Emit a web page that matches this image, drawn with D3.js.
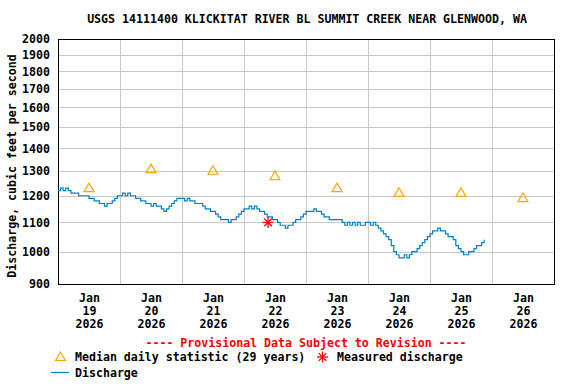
<!DOCTYPE html>
<html><head><meta charset="utf-8">
<script src="https://cdn.jsdelivr.net/npm/d3@7"></script>
<style>
body{margin:0;background:#fff}
svg{display:block}
text{font-family:"DejaVu Sans Mono","Liberation Mono",monospace;font-weight:bold;font-size:11.6px;fill:#000}
</style>
</head><body><svg id="c" width="576" height="384"></svg>
<script>
const title = "USGS 14111400 KLICKITAT RIVER BL SUMMIT CREEK NEAR GLENWOOD, WA";
const yLabel = "Discharge, cubic feet per second";
const yTicks = [900,1000,1100,1200,1300,1400,1500,1600,1700,1800,1900,2000];
const dayDates = ["2026-01-19","2026-01-20","2026-01-21","2026-01-22","2026-01-23","2026-01-24","2026-01-25","2026-01-26"];
const tickMonth = "Jan";
const tickDays = ["19","20","21","22","23","24","25","26"];
const tickYear = "2026";
const medianValues = [1232,1311,1304,1281,1232,1213,1213,1193];
const measuredTimes = ["2026-01-22T09:20:00Z"];
const measuredValues = [1100];
const dischargeStart = "2026-01-19T00:00:00Z";
// hourly instantaneous discharge, cfs
const q19 = [1220,1230,1220,1230,1220,1210,1210,1210,1200,1200,1200,1200,1190,1190,1180,1180,1170,1170,1160,1170,1170,1180,1190,1200];
const q20 = [1200,1210,1200,1210,1200,1200,1190,1190,1180,1180,1170,1170,1160,1170,1160,1160,1150,1140,1150,1160,1170,1180,1190,1190];
const q21 = [1190,1180,1190,1180,1180,1170,1170,1170,1160,1150,1150,1140,1140,1130,1120,1110,1110,1110,1100,1110,1110,1120,1130,1140];
const q22 = [1150,1150,1160,1150,1160,1150,1140,1140,1130,1120,1120,1110,1110,1100,1090,1090,1080,1090,1090,1100,1110,1110,1120,1130];
const q23 = [1140,1140,1140,1150,1140,1140,1130,1120,1120,1110,1110,1110,1110,1110,1100,1090,1100,1090,1100,1090,1100,1090,1090,1100];
const q24 = [1100,1090,1100,1090,1080,1070,1060,1050,1040,1020,1000,990,980,980,990,980,990,1000,1000,1010,1020,1030,1040,1050];
const q25 = [1060,1070,1070,1080,1070,1070,1060,1050,1050,1040,1020,1010,1000,990,990,1000,1000,1010,1020,1020,1030,1040];

const svg = d3.select("#c");
const L = 58, R = 554, T = 39, B = 284;

const x = d3.scaleUtc()
  .domain([new Date("2026-01-19T00:00:00Z"), new Date("2026-01-27T00:00:00Z")])
  .range([L, R]);
const y = d3.scaleLog().domain([900, 2000]).range([B, T]);

const allQ = [].concat(q19, q20, q21, q22, q23, q24, q25);
const t0 = new Date(dischargeStart).getTime();
const discharge = allQ.map((v, i) => ({t: new Date(t0 + i * 3600e3), v}));

// gridlines
const grid = svg.append("g");
grid.selectAll("line.h").data(yTicks.slice(1, -1)).join("line")
  .attr("x1", L).attr("x2", R)
  .attr("y1", d => Math.round(y(d)) + 0.5).attr("y2", d => Math.round(y(d)) + 0.5)
  .attr("stroke", "#c8c8c8").attr("stroke-width", 1);
const midnights = d3.utcDay.range(new Date("2026-01-20T00:00:00Z"), new Date("2026-01-27T00:00:00Z"));
grid.selectAll("line.v").data(midnights).join("line")
  .attr("x1", d => Math.round(x(d)) + 0.5).attr("x2", d => Math.round(x(d)) + 0.5)
  .attr("y1", T).attr("y2", B)
  .attr("stroke", "#c8c8c8").attr("stroke-width", 1);

// frame
svg.append("rect").attr("x", L + 0.5).attr("y", T + 0.5).attr("width", R - L).attr("height", B - T)
  .attr("fill", "none").attr("stroke", "#000").attr("stroke-width", 1);

// y axis
const yAxis = d3.axisLeft(y).tickValues(yTicks).tickFormat(d3.format("d")).tickSize(0).tickPadding(8);
const ga = svg.append("g").attr("transform", `translate(${L},0)`).call(yAxis);
ga.select(".domain").remove();
ga.selectAll("text").style("font-family", "DejaVu Sans Mono").style("font-size", "11.6px").style("font-weight", "bold");

// x axis labels at noon of each day
const noons = dayDates.map(d => new Date(d + "T12:00:00Z"));
const xAxis = d3.axisBottom(x).tickValues(noons).tickSize(0).tickFormat(() => "");
const gx = svg.append("g").attr("transform", `translate(0,${B})`).call(xAxis);
gx.select(".domain").remove();
gx.selectAll(".tick").each(function(d, i) {
  const g = d3.select(this);
  g.select("text").remove();
  const t = g.append("text").attr("text-anchor", "middle");
  t.append("tspan").attr("x", 0).attr("y", 18).text(tickMonth);
  t.append("tspan").attr("x", 0).attr("y", 31).text(tickDays[i]);
  t.append("tspan").attr("x", 0).attr("y", 44).text(tickYear);
});

// discharge line
const line = d3.line().x(d => x(d.t)).y(d => y(d.v)).curve(d3.curveStepAfter);
svg.append("path").datum(discharge).attr("d", line)
  .attr("fill", "none").attr("stroke", "#0080cc").attr("stroke-width", 1.2);

// median triangles
const triPath = "M0,-4.5L5,4L-5,4Z";
svg.selectAll("path.med").data(medianValues).join("path")
  .attr("d", triPath)
  .attr("transform", (d, i) => `translate(${x(noons[i])},${y(d)})`)
  .attr("fill", "none").attr("stroke", "#ffa500").attr("stroke-width", 1.2);

// measured asterisk
function asterisk(g, cx, cy, r) {
  const a = g.append("g").attr("transform", `translate(${cx},${cy})`);
  [[-r,0,r,0],[0,-r,0,r],[-r*0.7,-r*0.7,r*0.7,r*0.7],[-r*0.7,r*0.7,r*0.7,-r*0.7]].forEach(s => {
    a.append("line").attr("x1", s[0]).attr("y1", s[1]).attr("x2", s[2]).attr("y2", s[3])
      .attr("stroke", "#ff0000").attr("stroke-width", 1.3);
  });
}
measuredValues.forEach((v, i) => asterisk(svg, x(new Date(measuredTimes[i])), y(v), 5.5));

// title
svg.append("text").attr("x", 307).attr("y", 23).attr("text-anchor", "middle").text(title);

// y label
svg.append("text").attr("transform", "translate(15.5,166) rotate(-90)").attr("text-anchor", "middle").text(yLabel);

// provisional
svg.append("text").attr("x", 306).attr("y", 347).attr("text-anchor", "middle").style("fill", "#ff0000")
  .text("---- Provisional Data Subject to Revision ----");

// legend
svg.append("path").attr("d", triPath).attr("transform", "translate(60.5,356.5)")
  .attr("fill", "none").attr("stroke", "#ffa500").attr("stroke-width", 1.2);
svg.append("text").attr("x", 75).attr("y", 361).text("Median daily statistic (29 years)");
asterisk(svg, 322.5, 357, 5.5);
svg.append("text").attr("x", 337).attr("y", 361).text("Measured discharge");
svg.append("line").attr("x1", 51).attr("x2", 69).attr("y1", 372.5).attr("y2", 372.5)
  .attr("stroke", "#0080cc").attr("stroke-width", 1.2);
svg.append("text").attr("x", 75).attr("y", 377).text("Discharge");
</script>
</body></html>
